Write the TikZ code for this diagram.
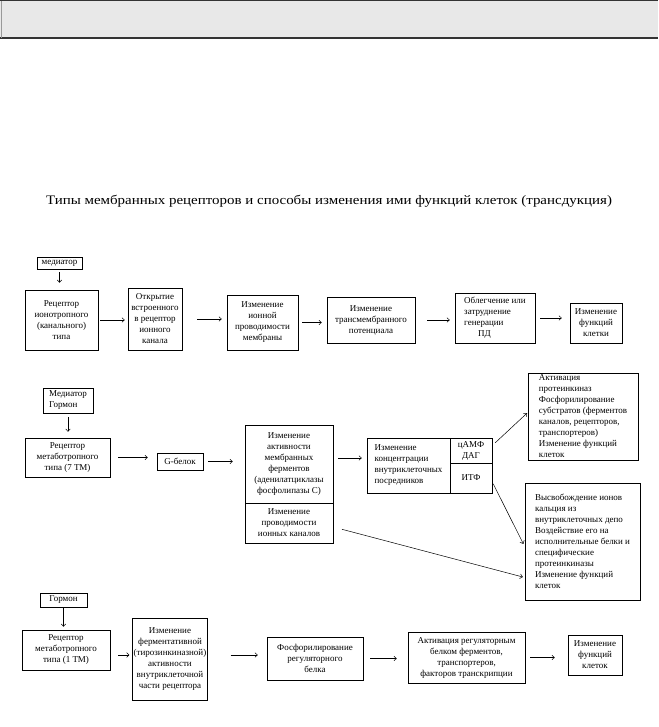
\documentclass[tikz,border=0pt]{standalone}
\usepackage{fontspec}
\setmainfont{Liberation Serif}
\newfontfamily\titlefont{Liberation Serif}[FakeStretch=1.15]
\usetikzlibrary{arrows.meta,positioning}
\newcommand{\boxfont}{\fontsize{9}{11}\selectfont}
\tikzset{
  rbox/.style={draw, line width=0.6pt, align=center, inner sep=1pt, font=\boxfont},
  lbox/.style={rbox, align=left},
  rarrow/.style={-{To[length=3pt,width=5pt]}, line width=0.5pt},
  rtitle/.style={font=\titlefont\fontsize{13}{15}\selectfont}
}

\begin{document}
\begin{tikzpicture}[x=1pt,y=-1pt]
\useasboundingbox (0,0) rectangle (658,727);
% header bar
\fill[black!9] (0,1) rectangle (658,38);
\draw[line width=1pt, black!80] (0,1) -- (658,1);
\draw[line width=1.6pt, black!80] (0,38) -- (658,38);
\draw[line width=0.4pt, black!40] (1,1) -- (1,38);

\node[rtitle] (title) at (329,201) {Типы мембранных рецепторов и способы изменения ими функций клеток (трансдукция)};

% ionotropic
\node[rbox, minimum width=45, minimum height=12] (med1) at (59.5,263) {медиатор};
\node[rbox, minimum width=73, minimum height=60] (ion) at (61.5,320) {Рецептор\\ионотропного\\(канального)\\типа};
\node[rbox, minimum width=54, minimum height=62] (open) at (155,319) {Открытие\\встроенного\\в рецептор\\ионного\\канала};
\node[rbox, minimum width=71, minimum height=55] (cond) at (262.5,322.5) {Изменение\\ионной\\проводимости\\мембраны};
\node[rbox, minimum width=88, minimum height=46] (trans) at (371,320) {Изменение\\трансмембранного\\потенциала};
\node[lbox, minimum width=80, minimum height=50] (pd) at (495,318) {Облегчение или\\затруднение\\генерации\\\hspace*{14pt}ПД};
\node[rbox, minimum width=52, minimum height=40] (func1) at (596,323) {Изменение\\функций\\клетки};

\draw[rarrow, shorten <=3pt, shorten >=7pt] (med1.south) -- (med1.south |- ion.north);
\draw[rarrow, shorten <=2pt, shorten >=3pt] (ion.east) -- (ion.east -| open.west);
\draw[rarrow, shorten <=15pt, shorten >=5pt] (open.east) -- (open.east -| cond.west);
\draw[rarrow, shorten <=4pt, shorten >=5pt] (cond.east) -- (cond.east -| trans.west);
\draw[rarrow, shorten <=12pt, shorten >=5pt] (trans.east) -- (trans.east -| pd.west);
\draw[rarrow, shorten <=5pt, shorten >=8pt] (pd.east) -- (pd.east -| func1.west);

% metabotropic, 7 TM
\node[lbox, minimum width=50, minimum height=25] (med2) at (68,400.5) {Медиатор\\Гормон};
\node[rbox, minimum width=85, minimum height=39] (r7) at (67.5,457.5) {Рецептор\\метаботропного\\типа (7 ТМ)};
\node[rbox, minimum width=46, minimum height=17] (gprot) at (180,461.5) {G-белок};
\node[rbox, minimum width=88, minimum height=78] (enz) at (289,464) {Изменение\\активности\\мембранных\\ферментов\\(аденилатциклазы\\фосфолипазы С)};
\node[rbox, minimum width=88, minimum height=40] (ionch) at (289,523) {Изменение\\проводимости\\ионных каналов};
\node[lbox, minimum width=83, minimum height=55] (msg) at (408.5,465.5) {Изменение\\концентрации\\внутриклеточных\\посредников};
\node[rbox, minimum width=42, minimum height=25] (camp) at (471,450.5) {цАМФ\\ДАГ};
\node[rbox, minimum width=42, minimum height=30] (itf) at (471,478) {ИТФ};
\node[lbox, minimum width=110, minimum height=87] (pkin) at (583,416.5) {Активация\\протеинкиназ\\Фосфорилирование\\субстратов (ферментов\\каналов, рецепторов,\\транспортеров)\\Изменение функций\\клеток};
\node[lbox, minimum width=115, minimum height=117] (calc) at (582.5,541.5) {Высвобождение ионов\\кальция из\\внутриклеточных депо\\Воздействие его на\\исполнительные белки и\\специфические\\протеинкиназы\\Изменение функций\\клеток};

\draw[rarrow, shorten <=4pt, shorten >=6pt] (med2.south) -- (med2.south |- r7.north);
\draw[rarrow, shorten <=8pt, shorten >=9pt] (r7.east) -- (r7.east -| gprot.west);
\draw[rarrow, shorten <=5pt, shorten >=12pt] (gprot.east) -- (gprot.east -| enz.west);
\draw[rarrow, shorten <=5pt, shorten >=5pt] ([yshift=6pt]enz.east) -- ([yshift=6pt]enz.east -| msg.west);
\draw[rarrow, shorten <=4pt, shorten >=1pt] ([yshift=5pt]camp.east) -- ([yshift=4pt]pkin.west);
\draw[rarrow, shorten <=2pt, shorten >=3pt] ([yshift=-4pt]itf.east) -- ([yshift=-5pt]calc.west);
\draw[rarrow, shorten <=9pt, shorten >=2pt] ([yshift=-4pt]ionch.east) -- ([yshift=-36pt]calc.west);

% metabotropic, 1 TM
\node[rbox, minimum width=47, minimum height=14] (horm) at (63.5,600) {Гормон};
\node[rbox, minimum width=88, minimum height=40] (r1) at (66,650) {Рецептор\\метаботропного\\типа (1 ТМ)};
\node[rbox, minimum width=74, minimum height=82] (tyr) at (170,659) {Изменение\\ферментативной\\(тирозинкиназной)\\активности\\внутриклеточной\\части рецептора};
\node[rbox, minimum width=96, minimum height=43] (phos) at (315,658.5) {Фосфорилирование\\регуляторного\\белка};
\node[rbox, minimum width=117, minimum height=51] (act) at (466.5,657.5) {Активация регуляторным\\белком ферментов,\\транспортеров,\\факторов транскрипции};
\node[rbox, minimum width=54, minimum height=40] (func3) at (595,655) {Изменение\\функций\\клеток};

\draw[rarrow, shorten <=1pt, shorten >=3pt] (horm.south) -- (horm.south |- r1.north);
\draw[rarrow, shorten <=8pt, shorten >=3pt] ([yshift=-5pt]r1.east) -- ([yshift=-5pt]r1.east -| tyr.west);
\draw[rarrow, shorten <=23pt, shorten >=9pt] ([yshift=4pt]tyr.east) -- ([yshift=4pt]tyr.east -| phos.west);
\draw[rarrow, shorten <=7pt, shorten >=11pt] (phos.east) -- (phos.east -| act.west);
\draw[rarrow, shorten <=5pt, shorten >=13pt] (act.east) -- (act.east -| func3.west);
\end{tikzpicture}
\end{document}
